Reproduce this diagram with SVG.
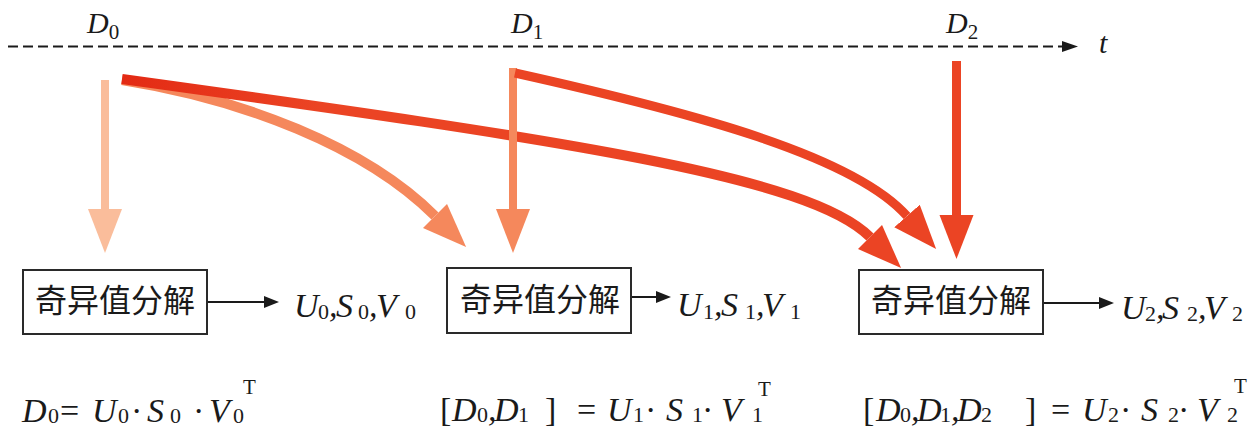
<svg xmlns="http://www.w3.org/2000/svg" width="1255" height="438" viewBox="0 0 1255 438">
<style>
.m{font-family:"Liberation Serif","Times New Roman",serif;font-style:italic;font-size:34px;fill:#1a1a1a}
.top{font-size:30px}
.s{font-style:normal;font-size:22px}
.ts{font-style:normal;font-size:21px}
.sup{font-style:normal;font-size:21px}
.u{font-style:normal}
.box{fill:#fff;stroke:#2a2a2a;stroke-width:2}
.cn{font-family:"Noto Sans CJK SC","Noto Sans",sans-serif;font-size:32px;fill:#1a1a1a;text-anchor:middle}
.thin{fill:none;stroke:#1a1a1a;stroke-width:2}
.fat{fill:none;stroke-linecap:butt}
</style>
<defs>
<linearGradient id="g3" gradientUnits="userSpaceOnUse" x1="122" y1="80" x2="320" y2="100"><stop offset="0" stop-color="#E32A14"/><stop offset="1" stop-color="#EB4424"/></linearGradient>
<marker id="hb" markerUnits="userSpaceOnUse" markerWidth="16" markerHeight="12" refX="0" refY="6" orient="auto"><path d="M0,0 L15,6 L0,12 z" fill="#1a1a1a"/></marker>
<marker id="h1" markerUnits="userSpaceOnUse" markerWidth="46" markerHeight="36" refX="0" refY="17" orient="auto"><path d="M0,0 L44,17 L0,34 z" fill="#FABD9B"/></marker>
<marker id="h2" markerUnits="userSpaceOnUse" markerWidth="46" markerHeight="36" refX="0" refY="17" orient="auto"><path d="M0,0 L44,17 L0,34 z" fill="#F5885C"/></marker>
<marker id="h3" markerUnits="userSpaceOnUse" markerWidth="46" markerHeight="36" refX="0" refY="17" orient="auto"><path d="M0,0 L44,17 L0,34 z" fill="#EB4424"/></marker>
</defs>

<g id="timeline">
<line x1="8" y1="46.5" x2="1062" y2="46.5" stroke="#1a1a1a" stroke-width="2" stroke-dasharray="10,5"/>
<path d="M1062,41 L1078,46.5 L1062,52 z" fill="#1a1a1a"/>
<text class="m" style="font-size:30px" x="1099" y="53">t</text>
</g>

<g id="labelD0"><text class="m top" x="87" y="33">D<tspan class="ts" dy="6">0</tspan></text></g>
<g id="labelD1"><text class="m top" x="511" y="33">D<tspan class="ts" dy="6">1</tspan></text></g>
<g id="labelD2"><text class="m top" x="946" y="33">D<tspan class="ts" dy="6">2</tspan></text></g>

<g id="connectors">
<line class="fat" x1="105" y1="80" x2="105" y2="209" stroke="#FABD9B" stroke-width="8" marker-end="url(#h1)"/>
<path class="fat" d="M122,80 C242,99 365,146 435,216" stroke="#F5885C" stroke-width="10" marker-end="url(#h2)"/>
<path class="fat" d="M122,79 C572,141 810,177 870,237" stroke="url(#g3)" stroke-width="10" marker-end="url(#h3)"/>
<line class="fat" x1="513" y1="68" x2="513" y2="209" stroke="#F5885C" stroke-width="8" marker-end="url(#h2)"/>
<path class="fat" d="M515,73 C695,113 854,156 907,216" stroke="#EB4424" stroke-width="9" marker-end="url(#h3)"/>
<line class="fat" x1="956.5" y1="61" x2="956.5" y2="215" stroke="#EB4424" stroke-width="9" marker-end="url(#h3)"/>
<line class="thin" x1="207" y1="302" x2="264" y2="302" marker-end="url(#hb)"/>
<line class="thin" x1="631" y1="297" x2="656" y2="297" marker-end="url(#hb)"/>
<line class="thin" x1="1043" y1="303" x2="1099" y2="303" marker-end="url(#hb)"/>
</g>

<g id="svd0">
<rect class="box" x="23" y="270" width="184" height="64"/>
<text class="cn" x="115" y="312">奇异值分解</text>
</g>
<g id="svd1">
<rect class="box" x="447" y="268" width="184" height="65"/>
<text class="cn" x="540" y="311">奇异值分解</text>
</g>
<g id="svd2">
<rect class="box" x="859" y="270" width="184" height="64"/>
<text class="cn" x="951" y="312">奇异值分解</text>
</g>

<g id="out0"><text class="m" y="317"><tspan x="294">U</tspan><tspan class="s" x="318" dy="2">0</tspan><tspan x="329" dy="-2">,</tspan><tspan x="336">S</tspan><tspan class="s" x="358" dy="2">0</tspan><tspan x="369" dy="-2">,</tspan><tspan x="376">V</tspan><tspan class="s" x="405" dy="2">0</tspan></text></g>
<g id="out1"><text class="m" y="316"><tspan x="677">U</tspan><tspan class="s" x="703" dy="3">1</tspan><tspan x="714" dy="-3">,</tspan><tspan x="721">S</tspan><tspan class="s" x="745" dy="3">1</tspan><tspan x="756" dy="-3">,</tspan><tspan x="762">V</tspan><tspan class="s" x="790" dy="3">1</tspan></text></g>
<g id="out2"><text class="m" y="319"><tspan x="1121">U</tspan><tspan class="s" x="1145" dy="2">2</tspan><tspan x="1156" dy="-2">,</tspan><tspan x="1162">S</tspan><tspan class="s" x="1187" dy="2">2</tspan><tspan x="1198" dy="-2">,</tspan><tspan x="1204">V</tspan><tspan class="s" x="1232" dy="2">2</tspan></text></g>

<g id="eq0"><text class="m" y="422"><tspan x="22">D</tspan><tspan class="s" x="48" dy="1">0</tspan><tspan class="u" x="60" dy="-1">=</tspan><tspan x="92">U</tspan><tspan class="s" x="118" dy="1">0</tspan><tspan class="u" x="131" dy="-1">·</tspan><tspan x="147">S</tspan><tspan class="s" x="170" dy="1">0</tspan><tspan class="u" x="193" dy="-1">·</tspan><tspan x="209">V</tspan><tspan class="s" x="233" dy="1">0</tspan><tspan class="sup" x="243" dy="-29">T</tspan></text></g>

<g id="eq1"><text class="m" y="421"><tspan class="u" x="440">[</tspan><tspan x="452">D</tspan><tspan class="s" x="477" dy="1">0</tspan><tspan x="488" dy="-1">,</tspan><tspan x="494">D</tspan><tspan class="s" x="518" dy="1">1</tspan><tspan class="u" x="545" dy="-1">]</tspan><tspan class="u" x="577">=</tspan><tspan x="607">U</tspan><tspan class="s" x="633" dy="1">1</tspan><tspan class="u" x="645" dy="-1">·</tspan><tspan x="666">S</tspan><tspan class="s" x="692" dy="1">1</tspan><tspan class="u" x="702" dy="-1">·</tspan><tspan x="721">V</tspan><tspan class="s" x="752" dy="1">1</tspan><tspan class="sup" x="758" dy="-26">T</tspan></text></g>

<g id="eq2"><text class="m" y="421"><tspan class="u" x="863">[</tspan><tspan x="876">D</tspan><tspan class="s" x="900" dy="1">0</tspan><tspan x="911" dy="-1">,</tspan><tspan x="917">D</tspan><tspan class="s" x="940" dy="1">1</tspan><tspan x="951" dy="-1">,</tspan><tspan x="957">D</tspan><tspan class="s" x="981" dy="1">2</tspan><tspan class="u" x="1025" dy="-1">]</tspan><tspan class="u" x="1051">=</tspan><tspan x="1082">U</tspan><tspan class="s" x="1108" dy="1">2</tspan><tspan class="u" x="1120" dy="-1">·</tspan><tspan x="1141">S</tspan><tspan class="s" x="1168" dy="1">2</tspan><tspan class="u" x="1178" dy="-1">·</tspan><tspan x="1197">V</tspan><tspan class="s" x="1227" dy="1">2</tspan><tspan class="sup" x="1234" dy="-29">T</tspan></text></g>
</svg>
